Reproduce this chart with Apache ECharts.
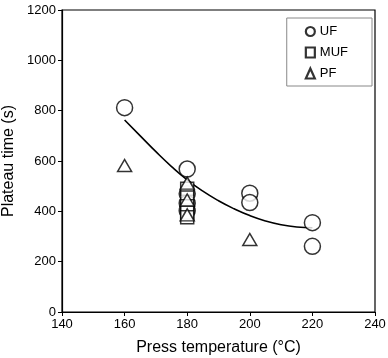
<!DOCTYPE html>
<html>
<head>
<meta charset="utf-8">
<script src="https://cdn.jsdelivr.net/npm/echarts@6/dist/echarts.min.js"></script>
<style>
  html, body { margin: 0; padding: 0; background: #fff; }
  #chart { width: 388px; height: 358px; }
</style>
</head>
<body>
<div id="chart"></div>
<script>
// [temperature, plateau time]
const ufPoints = [[160, 812], [180, 568], [180, 470], [180, 432], [180, 402], [200, 472], [200, 435], [220, 355], [220, 261]];
const mufPoints = [[180, 490], [180, 455], [180, 420], [180, 395], [180, 376]];
const pfPoints = [[160, 582], [180, 512], [180, 445], [180, 386], [200, 288]];
// trend line
const fitTemps = [160, 165, 170, 175, 180, 185, 190, 195, 200, 205, 210, 215, 220];
const fitTimes = [763, 700, 637, 578, 525, 480, 442, 410, 383, 362, 347, 338, 335];

const xTicks = { min: 140, max: 240, interval: 20 };
const yTicks = { min: 0, max: 1200, interval: 200 };

const font = 'Liberation Sans, Arial, sans-serif';
const hollow = { color: '#fff', borderColor: '#000', borderWidth: 1.5 };

const chart = echarts.init(document.getElementById('chart'));
chart.setOption({
  animation: false,
  grid: {
    left: 62, right: 13, top: 10, bottom: 46,
    outerBoundsMode: 'none', containLabel: false,
    show: true, borderColor: '#000', borderWidth: 1.2
  },
  legend: {
    orient: 'vertical',
    right: 16,
    top: 18,
    padding: [7, 24, 6, 18],
    itemGap: 8,
    itemWidth: 9,
    itemHeight: 10,
    borderColor: '#888',
    borderWidth: 1,
    data: ['UF', 'MUF', 'PF'],
    textStyle: { fontFamily: font, fontSize: 13, color: '#000' },
    itemStyle: { color: '#fff', borderColor: '#000', borderWidth: 2.2 }
  },
  xAxis: {
    type: 'value',
    min: xTicks.min,
    max: xTicks.max,
    interval: xTicks.interval,
    name: 'Press temperature (°C)',
    nameLocation: 'middle',
    nameGap: 28,
    nameTextStyle: { fontFamily: font, fontSize: 16, color: '#000' },
    axisLine: { lineStyle: { color: '#000', width: 1.2 } },
    axisTick: { length: 4, lineStyle: { color: '#000' } },
    axisLabel: { fontFamily: font, fontSize: 13, color: '#000', margin: 6 },
    splitLine: { show: false }
  },
  yAxis: {
    type: 'value',
    min: yTicks.min,
    max: yTicks.max,
    interval: yTicks.interval,
    name: 'Plateau time (s)',
    nameLocation: 'middle',
    nameGap: 42,
    nameTextStyle: { fontFamily: font, fontSize: 16, color: '#000' },
    axisLine: { lineStyle: { color: '#000', width: 1.2 } },
    axisTick: { length: 4, lineStyle: { color: '#000' } },
    axisLabel: { fontFamily: font, fontSize: 13, color: '#000', margin: 6, formatter: v => String(v) },
    splitLine: { show: false }
  },
  series: [
    {
      name: 'fit',
      type: 'line',
      data: fitTemps.map((t, i) => [t, fitTimes[i]]),
      smooth: true,
      symbol: 'none',
      lineStyle: { color: '#000', width: 1.6 },
      z: 1
    },
    {
      name: 'UF',
      type: 'scatter',
      symbol: 'circle',
      symbolSize: 16,
      data: ufPoints,
      itemStyle: hollow,
      z: 3
    },
    {
      name: 'MUF',
      type: 'scatter',
      symbol: 'rect',
      symbolSize: 13,
      data: mufPoints,
      itemStyle: hollow,
      z: 3
    },
    {
      name: 'PF',
      type: 'scatter',
      symbol: 'triangle',
      symbolSize: [14, 12],
      data: pfPoints,
      itemStyle: hollow,
      z: 3
    }
  ]
});
</script>
</body>
</html>
